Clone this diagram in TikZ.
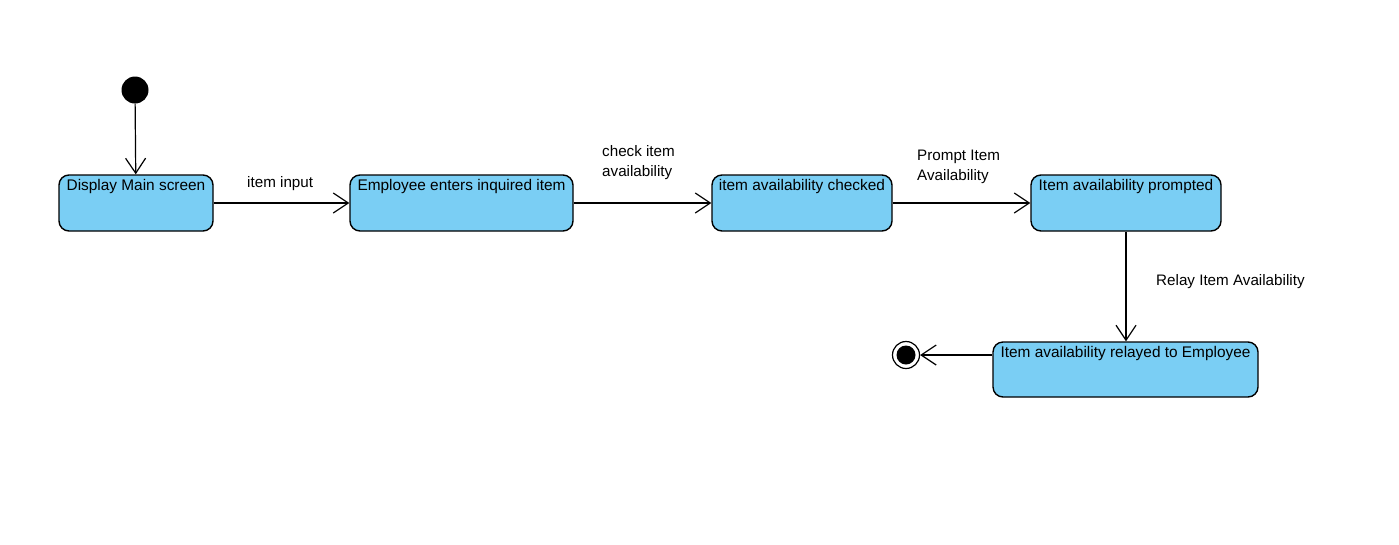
\documentclass[tikz,border=0pt]{standalone}
\usepackage{fontspec}
\setmainfont{Liberation Sans}
\usetikzlibrary{arrows.meta}
\definecolor{stfill}{RGB}{122,206,244}
\tikzset{
  state/.style={draw=black, line width=1.4pt, fill=stfill, rounded corners=10pt, inner sep=0pt},
  stlabel/.style={anchor=north, inner sep=0pt, font=\fontsize{15.4}{18}\selectfont},
  trans/.style={draw=black, line width=1.2pt, -{Straight Barb[length=15pt,width=20pt,line width=1.2pt]}},
  tlabel/.style={inner sep=0pt, font=\fontsize{15.2}{20}\selectfont, align=left},
}
\begin{document}
\begin{tikzpicture}[x=1pt,y=-1pt]
\useasboundingbox (0,0) rectangle (1399,544);
\fill[white] (0,0) rectangle (1399,544);
% initial
\node[circle, fill=black, minimum size=27pt, inner sep=0pt] (init) at (135,90) {};
% states
\node[state, minimum width=154pt, minimum height=56pt] (s1) at (136,203) {};
\node[stlabel] at ([yshift=-5pt]s1.north) {Display Main screen};
\node[state, minimum width=223pt, minimum height=56pt] (s2) at (461.5,203) {};
\node[stlabel] at ([yshift=-5pt]s2.north) {Employee enters inquired item};
\node[state, minimum width=180pt, minimum height=56pt] (s3) at (802,203) {};
\node[stlabel] at ([yshift=-5pt]s3.north) {item availability checked};
\node[state, minimum width=190pt, minimum height=56pt] (s4) at (1126,203) {};
\node[stlabel] at ([yshift=-5pt]s4.north) {Item availability prompted};
\node[state, minimum width=265pt, minimum height=55pt] (s5) at (1125.5,369.5) {};
\node[stlabel] at ([yshift=-5pt]s5.north) {Item availability relayed to Employee};
% final
\node[circle, draw=black, fill=white, line width=1.2pt, minimum size=27pt, inner sep=0pt] (fin) at (906,355) {};
\node[circle, fill=black, minimum size=19pt, inner sep=0pt] (finin) at (fin) {};
% transitions
\draw[trans] (init) -- (s1);
\draw[trans] (s1) -- (s2);
\draw[trans] (s2) -- (s3);
\draw[trans] (s3) -- (s4);
\draw[trans] (s4) -- (s4 |- s5.north);
\coordinate (s5w) at (s5.west |- fin);
\draw[trans] (s5w) -- (fin);
% labels
\node[tlabel, anchor=north west] (l1) at (247,176) {item input};
\node[tlabel, anchor=north west] (l2) at (602,145) {check item\\availability};
\node[tlabel, anchor=north west] (l3) at (917,150) {Prompt Item\\Availability};
\node[tlabel, anchor=north west] (l4) at (1156,274) {Relay Item Availability};
\end{tikzpicture}
\end{document}
